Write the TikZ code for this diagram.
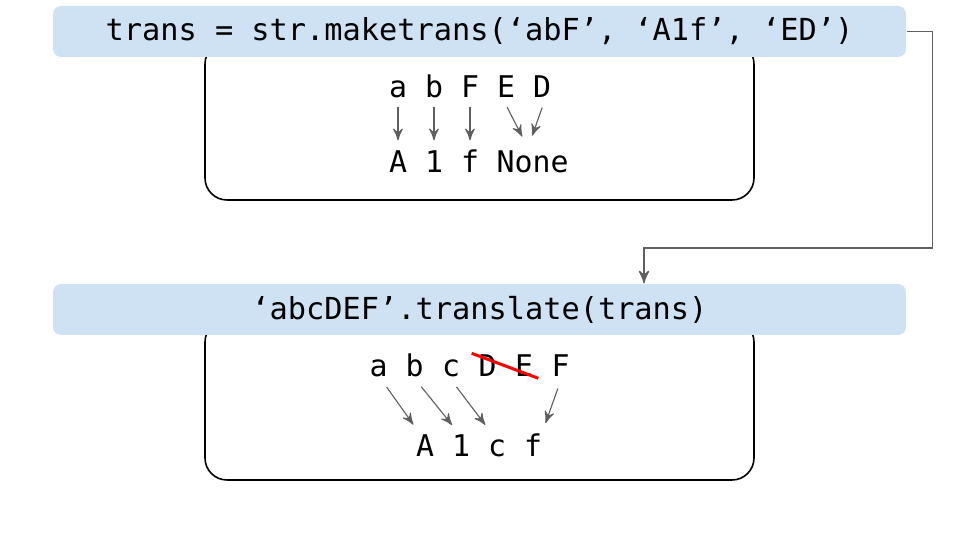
\documentclass[tikz,border=0pt]{standalone}
\usepackage{fontspec}
\usepackage{xcolor}
\usepackage{tikz}
\usetikzlibrary{arrows, calc, positioning}
\newfontfamily\codefont{DejaVu Sans Mono}
\definecolor{barblue}{HTML}{CFE2F3}
\definecolor{linkgray}{HTML}{5F5F5F}

\begin{document}
\begin{tikzpicture}[> = stealth',
	codebar/.style = {fill=barblue, rounded corners=0.08cm, minimum width=8.53cm,
		minimum height=0.51cm, inner sep=0, font=\codefont\fontsize{8.62}{10}\selectfont},
	letter/.style = {inner sep=0, text height=0.21cm, text depth=0,
		font=\codefont\fontsize{8.5}{10}\selectfont},
	link/.style = {->, draw=linkgray, line width=0.32pt},
	frame/.style = {draw, line width=0.45pt, rounded corners=0.22cm}]
	\useasboundingbox (0,0) rectangle (9.6,-5.4);
	
	% frames, partly hidden by the bars
	\draw[frame] (2.05,-0.42) rectangle (7.54,-2.00);
	\draw[frame] (2.05,-3.20) rectangle (7.54,-4.80);
	
	\node[codebar] (maketrans) at (4.795,-0.315) {\raisebox{-0.02cm}{trans = str.maketrans(‘abF’, ‘A1f’, ‘ED’)}};
	\node[codebar] (translate) at (4.795,-3.095) {\raisebox{-0.02cm}{‘abcDEF’.translate(trans)}};
	
	% maketrans table
	\foreach \ch/\x/\nm in {a/3.98/ta, b/4.34/tb, F/4.70/tF, E/5.06/tE, D/5.42/tD}
		\node[letter] (\nm) at (\x,-0.87) {\ch};
	\foreach \ch/\x/\nm in {A/3.98/tA, 1/4.34/t1, f/4.70/tf}
		\node[letter] (\nm) at (\x,-1.625) {\ch};
	\node[letter] (tNone) at (5.327,-1.625) {None};
	
	\foreach \u/\v in {ta/tA, tb/t1, tF/tf}
		\draw[link, shorten <=0.085cm, shorten >=0.11cm] (\u.south) -- (\v.north);
	\draw[link, shorten <=0.1cm, shorten >=0.165cm]
		([xshift=-0.035cm]tE.south) -- ([xshift=-0.03cm]tNone.north);
	\draw[link, shorten <=0.1cm, shorten >=0.165cm]
		([xshift=0.035cm]tD.south) -- ([xshift=-0.06cm]tNone.north);
	
	% translate result
	\foreach \ch/\x/\nm in {a/3.785/ba, b/4.147/bb, c/4.51/bc, D/4.875/bD, E/5.24/bE, F/5.605/bF}
		\node[letter] (\nm) at (\x,-3.665) {\ch};
	\foreach \ch/\x/\nm in {A/4.25/rA, 1/4.61/r1, c/4.97/rc, f/5.33/rf}
		\node[letter] (\nm) at (\x,-4.46) {\ch};
	
	\foreach \u/\v/\s/\e in {ba/rA/0.015/-0.044, bb/r1/-0.006/-0.011, bc/rc/-0.015/-0.042, bF/rf/0.012/0.084}
		\draw[link, shorten <=0.115cm, shorten >=0.125cm]
			([xshift=\s cm]\u.south) -- ([xshift=\e cm]\v.north);
	
	\draw[red, line width=0.85pt] ($(bD)+(-0.158,0.132)$) -- ($(bE)+(0.143,-0.118)$);
	
	% trans handed on
	\coordinate (bend) at (6.44,-2.48);
	\draw[link, line width=0.4pt] (maketrans.east) -- ++(0.26,0) |- (bend) -- (bend |- translate.north);
\end{tikzpicture}
\end{document}
